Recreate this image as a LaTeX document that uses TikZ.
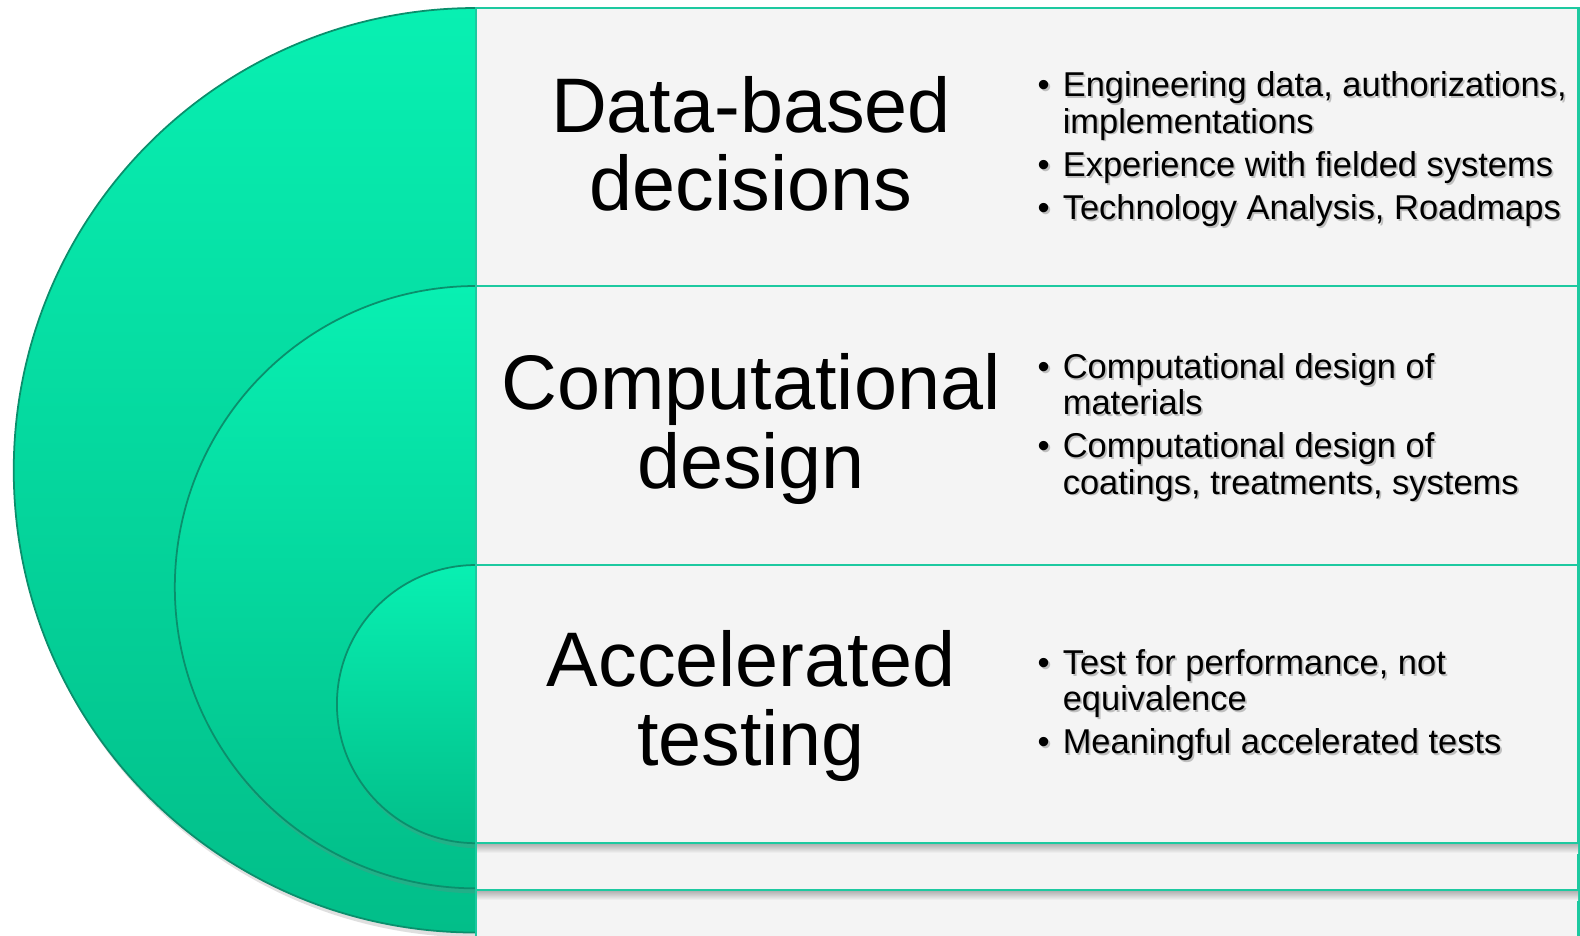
\documentclass[tikz,border=0pt]{standalone}
\usepackage{fontspec}
\setmainfont{Liberation Sans}
\usepackage{xcolor}
\usepackage{tikz}
\usetikzlibrary{shadows}
\definecolor{discTop}{HTML}{08F0B2}
\definecolor{discBot}{HTML}{02BE89}
\definecolor{discEdge}{HTML}{0A8F6C}
\definecolor{rule}{HTML}{1DC9A0}
\definecolor{panel}{HTML}{F4F4F4}
\tikzset{
  disc/.style={top color=discTop, bottom color=discBot, draw=discEdge, line width=0.5pt,
    drop shadow={shadow xshift=0.02cm, shadow yshift=-0.05cm, opacity=0.25}},
  panelbox/.style={fill=panel, draw=rule, line width=0.6pt},
  rowshade/.style={top color=black!30, bottom color=panel, draw=none},
  title/.style={align=center, inner sep=0pt, font=\fontsize{22}{22.2}\selectfont},
  pts/.style={anchor=west, inner sep=0pt, align=left, font=\fontsize{9.8}{10.3}\selectfont},
  ptshadow/.style={pts, text=black!25}
}
\newcommand{\ptlist}[1]{\begin{tabular}{@{}l@{\hspace{0.13cm}}l@{}}#1\end{tabular}}
\newcommand{\ptnode}[3]{%
  \node[ptshadow, xshift=0.018cm, yshift=-0.018cm] (#1s) at (#2) {\ptlist{#3}};
  \node[pts] (#1) at (#2) {\ptlist{#3}};}

\begin{document}
\begin{tikzpicture}[x=0.01cm, y=0.01cm]
  \clip (0,0) rectangle (1580,935);
  \fill[white] (0,0) rectangle (1580,935);

  \path[disc] (476,927) arc[start angle=90, end angle=270, radius=4.62cm] -- cycle;
  \path[disc] (476,649) arc[start angle=90, end angle=270, radius=3.01cm] -- cycle;
  \path[disc] (476,370) arc[start angle=90, end angle=270, radius=1.39cm] -- cycle;

  \draw[panelbox] (476,45) rectangle (1578.5,-60);
  \draw[panelbox] (476,92) rectangle (1578.5,45);
  \draw[panelbox] (476,370) rectangle (1578.5,92);
  \draw[panelbox] (476,649) rectangle (1578.5,370);
  \draw[panelbox] (476,927) rectangle (1578.5,649);
  \fill[rowshade] (477,91) rectangle (1578,82);
  \fill[rowshade] (477,44) rectangle (1578,35);

  \node[title] (data) at (751,791) {Data-based\\decisions};
  \node[title] (comp) at (751,506) {Computational\\design};
  \node[title] (accel) at (751,229) {Accelerated\\testing};

  \ptnode{dataPts}{1037,784}{\textbullet & Engineering data, authorizations,\\ & implementations\\[2pt]
    \textbullet & Experience with fielded systems\\[2pt] \textbullet & Technology Analysis, Roadmaps}
  \ptnode{compPts}{1037,506}{\textbullet & Computational design of\\ & materials\\[2pt]
    \textbullet & Computational design of\\ & coatings, treatments, systems}
  \ptnode{accelPts}{1037,228}{\textbullet & Test for performance, not\\ & equivalence\\[2pt]
    \textbullet & Meaningful accelerated tests}
\end{tikzpicture}
\end{document}
